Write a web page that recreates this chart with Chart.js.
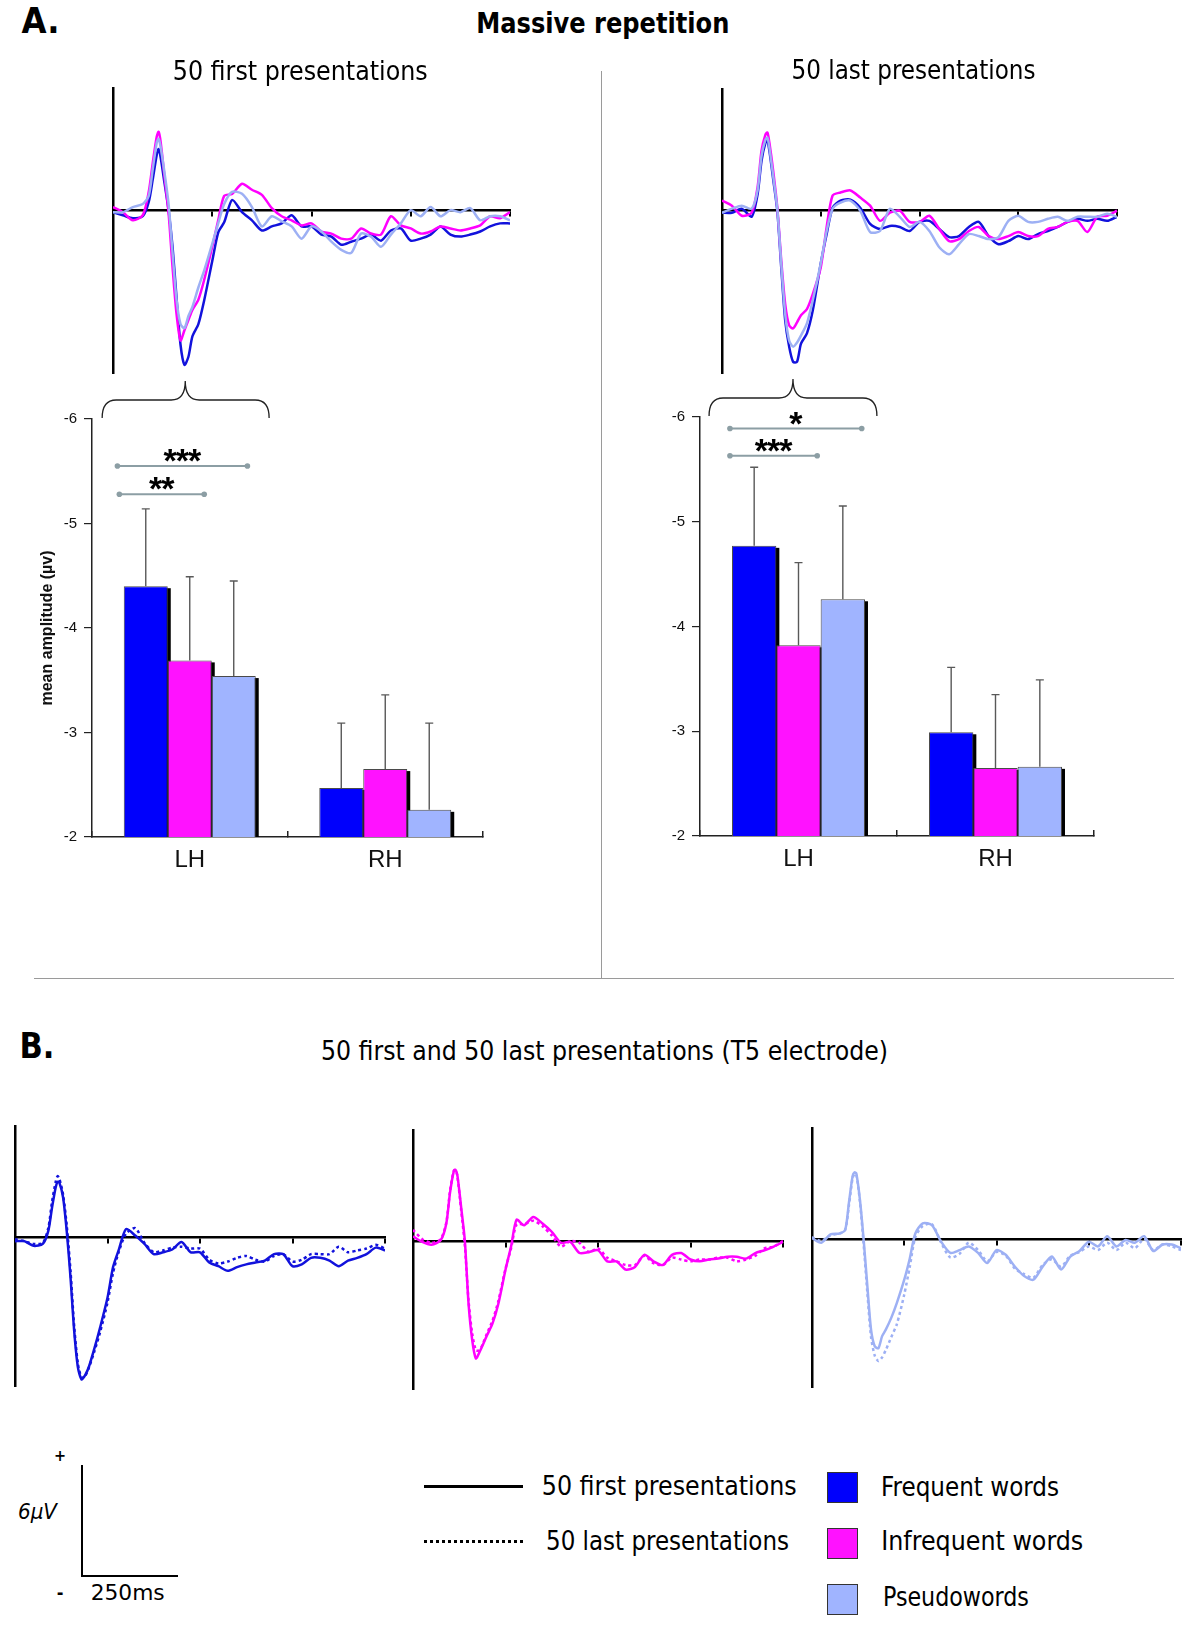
<!DOCTYPE html>
<html><head><meta charset="utf-8">
<script src="https://cdn.jsdelivr.net/npm/chart.js@4.4.1/dist/chart.umd.min.js"></script>
<style>
html,body{margin:0;padding:0;background:#fff;}
#page{position:relative;width:1200px;height:1635px;overflow:hidden;background:#fff;}
canvas{position:absolute;}
.t{position:absolute;white-space:nowrap;font-family:"DejaVu Sans Condensed","DejaVu Sans",sans-serif;font-stretch:condensed;color:#000;transform-origin:center center;line-height:1;}
.ln{position:absolute;}
</style></head><body><div id="page"></div>
<script>
// ---------- DATA ----------
const times = [0,25,50,75,
  90,100,110,115,120,130,140,150,160,170,180,190,200,
  215,230,250,265,280,
  300,325,350,375,400,425,450,475,500,
  525,550,575,600,625,650,675,700,725,750,
  775,800,825,850,875,900,925,950,975,1000];

// A. 50 first presentations (µV)
const firstFrequent = [-0.1,-0.25,-0.4,-0.3,
  0.4,1.5,2.7,3.0,2.6,1.3,0,-1.8,-4.3,-6.6,-7.6,-7.2,-6.2,
  -5.6,-4.4,-2.5,-1.1,-0.6,
  0.5,-0.1,-0.5,-1.0,-0.8,-0.65,-0.25,-0.8,-0.8,
  -1.2,-1.3,-1.7,-1.55,-1.4,-1.2,-1.5,-1.0,-0.9,-1.5,
  -1.4,-1.2,-0.8,-1.2,-1.3,-1.2,-1.05,-0.8,-0.65,-0.65];
const firstInfrequent = [0.15,-0.1,-0.5,-0.25,
  0.9,2.3,3.6,3.85,3.35,1.6,-0.15,-2.8,-5.1,-6.4,-5.9,-5.4,-4.9,
  -4.4,-3.4,-1.8,-0.5,0.7,
  0.8,1.3,1.0,0.75,0.1,-0.3,-0.5,-0.75,-0.65,
  -1.05,-1.15,-1.4,-1.4,-0.9,-1.15,-1.2,-0.3,-0.75,-0.9,
  -1.15,-1.05,-0.8,-0.9,-1.0,-0.9,-0.75,-0.3,-0.4,-0.1];
const firstPseudo = [-0.1,-0.1,0.15,0.3,
  0.7,2.0,3.3,3.5,3.1,1.8,0.3,-2.1,-4.4,-5.6,-5.8,-5.2,-4.75,
  -3.8,-2.95,-1.65,-0.65,0.3,
  0.9,0.8,0.15,-0.8,-0.3,-0.55,-0.8,-1.4,-0.8,
  -1.05,-1.55,-1.95,-2.1,-1.15,-1.3,-1.8,-1.2,-0.65,0,
  -0.3,0.15,-0.3,0,-0.1,0.1,-0.5,-0.3,-0.3,-0.5];

// A. 50 last presentations (µV)
const lastFrequent = [-0.1,-0.1,0.1,-0.3,
  0.8,2.45,3.35,3.45,2.95,1.5,0,-2.8,-5.4,-6.7,-7.45,-7.45,-6.55,
  -6.05,-4.9,-2.6,-1.15,0.15,
  0.5,0.55,0.15,-0.65,-0.9,-0.75,-0.8,-1.0,-0.55,
  -0.5,-0.9,-1.3,-1.25,-0.8,-0.55,-1.25,-1.65,-1.5,-1.25,
  -1.4,-1.15,-1.0,-0.8,-0.55,-0.4,-0.5,-0.4,-0.5,-0.3];
const lastInfrequent = [0.5,0.25,-0.25,-0.1,
  1.15,2.95,3.75,3.85,3.35,1.9,0.15,-2.45,-4.6,-5.65,-5.8,-5.5,-5.15,
  -4.85,-4.1,-2.8,-0.8,0.75,
  0.9,1.0,0.65,0.25,-0.5,-0.1,0,-0.55,-0.55,
  -0.25,-0.9,-1.5,-1.4,-1.0,-0.8,-1.25,-1.4,-1.25,-1.05,
  -1.25,-1.25,-0.9,-0.8,-0.55,-0.5,-1.05,-0.3,-0.25,0];
const lastPseudo = [-0.1,0.1,0.25,0.1,
  1.0,2.7,3.5,3.6,3.1,1.65,0.1,-2.6,-5.1,-6.4,-6.7,-6.5,-6.15,
  -5.55,-4.4,-2.6,-1.0,0.1,
  0.4,0.5,0,-1.05,-1.0,0.1,-0.3,-0.8,-0.55,
  -1.0,-1.8,-2.15,-1.65,-1.15,-1.25,-1.4,-1.3,-0.5,-0.25,
  -0.55,-0.55,-0.4,-0.3,-0.5,-0.3,-0.3,-0.3,-0.15,-0.3];

// B. T5 electrode, first (solid) vs last (dotted)
const t5FrequentFirst = [-0.2,-0.2,-0.45,-0.35,
  0.35,1.6,2.7,3.0,2.95,2.15,0.3,-2.15,-5.05,-7.0,-7.65,-7.4,-6.95,
  -5.95,-4.85,-3.25,-1.6,-0.7,
  0.45,0.1,-0.35,-0.9,-0.8,-0.65,-0.25,-0.8,-0.8,
  -1.35,-1.55,-1.8,-1.6,-1.45,-1.35,-1.25,-0.9,-0.9,-1.55,
  -1.45,-1.1,-1.1,-1.25,-1.55,-1.25,-1.1,-0.9,-0.55,-0.7];
const t5FrequentLast = [-0.1,-0.2,-0.35,-0.3,
  0.5,1.9,3.0,3.3,3.15,2.3,0.6,-1.8,-4.8,-6.8,-7.55,-7.45,-7.0,
  -6.1,-5.1,-3.5,-1.9,-0.8,
  0.2,0.5,-0.3,-0.8,-0.7,-0.55,-0.5,-0.6,-0.6,
  -1.2,-1.4,-1.3,-1.1,-1.0,-1.2,-1.3,-1.0,-0.9,-1.3,
  -1.2,-0.9,-0.9,-0.9,-0.5,-0.8,-0.7,-0.6,-0.4,-0.6];
const t5InfrequentFirst = [0.25,-0.05,-0.2,0.05,
  0.95,2.6,3.75,3.85,3.55,1.85,0.05,-3.35,-5.35,-6.35,-6.0,-5.55,-5.1,
  -4.45,-3.45,-1.55,-0.3,1.15,
  0.85,1.3,0.95,0.5,-0.1,-0.05,-0.65,-0.6,-0.5,
  -1.1,-1.1,-1.55,-1.4,-0.75,-1.1,-1.3,-0.75,-0.65,-1.0,
  -1.1,-1.0,-0.95,-0.85,-0.85,-0.95,-0.65,-0.5,-0.3,-0.05];
const t5InfrequentLast = [0.6,0.1,-0.1,0.1,
  1.0,2.7,3.8,3.85,3.5,1.7,-0.2,-3.2,-5.0,-5.9,-5.9,-5.5,-5.0,
  -4.3,-3.3,-1.5,-0.4,0.9,
  0.9,1.1,0.8,0.3,-0.3,0.0,-0.1,-0.6,-0.4,
  -0.9,-1.1,-1.3,-1.3,-0.8,-1.2,-1.3,-0.9,-1.0,-1.1,
  -1.0,-1.0,-0.9,-0.9,-1.1,-1.0,-0.8,-0.4,-0.3,0.0];
const t5PseudoFirst = [0.05,-0.2,0.25,0.3,
  0.5,1.95,3.4,3.6,3.55,2.1,-0.05,-2.55,-4.9,-5.8,-5.9,-5.25,-4.9,
  -4.25,-3.45,-2.2,-1.05,0.3,
  0.85,0.75,-0.15,-0.75,-0.6,-0.4,-0.75,-1.3,-0.6,
  -0.85,-1.5,-2.0,-2.2,-1.5,-0.95,-1.65,-0.95,-0.65,-0.15,
  -0.4,0.15,-0.4,-0.05,-0.2,0.15,-0.65,-0.3,-0.3,-0.5];
const t5PseudoLast = [0.1,-0.1,0.2,0.3,
  0.5,1.8,3.3,3.5,3.5,2.0,-0.3,-2.9,-5.3,-6.3,-6.6,-6.4,-6.0,
  -5.3,-4.6,-3.0,-1.5,0.1,
  0.7,0.8,-0.2,-1.0,-0.8,-0.2,-0.6,-1.2,-0.7,
  -0.9,-1.6,-1.9,-2.1,-1.4,-1.1,-1.5,-0.9,-0.7,-0.4,
  -0.6,-0.2,-0.6,-0.2,-0.5,0.0,-0.6,-0.3,-0.4,-0.6];

// Bar charts: mean amplitude (µV) and error-bar ends
const barCategories = ['LH','RH'];
const seriesNames = ['Frequent words','Infrequent words','Pseudowords'];
const barFirstFrequent = [-4.40,-2.47];
const barFirstInfrequent = [-3.69,-2.65];
const barFirstPseudo = [-3.54,-2.26];
const errFirstFrequent = [-5.14,-3.09];
const errFirstInfrequent = [-4.49,-3.36];
const errFirstPseudo = [-4.45,-3.09];
const barLastFrequent = [-4.77,-2.99];
const barLastInfrequent = [-3.82,-2.65];
const barLastPseudo = [-4.26,-2.66];
const errLastFrequent = [-5.52,-3.61];
const errLastInfrequent = [-4.61,-3.35];
const errLastPseudo = [-5.15,-3.49];
const barAxisMin = -6, barAxisMax = -2, barAxisStep = 1;
// significance markers: [from, to (category units), level (µV), label]
const sigFirst = [[-0.37,0.295,-5.55,'***'],[-0.36,0.074,-5.28,'**']];
const sigLast = [[-0.348,0.321,-5.89,'*'],[-0.348,0.095,-5.63,'***']];

// ---------- STYLE ----------
const LINE_BLUE='#1212dc', LINE_MAG='#ff00ff', LINE_LB='#9db0f4';
const BAR_COLORS=['#0000fc','#ff12ff','#a0b4ff'];
Chart.defaults.font.family='"Liberation Sans", Arial, sans-serif';

const page=document.getElementById('page');
function mkCanvas(l,t,w,h){const c=document.createElement('canvas');c.width=w;c.height=h;
  c.style.left=l+'px';c.style.top=t+'px';c.style.width=w+'px';c.style.height=h+'px';page.appendChild(c);return c;}
function pts(v){return v.map((y,i)=>({x:times[i],y:y}));}

function erp(box,datasets){
  const pad=5;
  const cv=mkCanvas(box.l-pad,box.t-pad,box.r-box.l+2*pad,box.b-box.t+2*pad);
  new Chart(cv,{type:'line',data:{datasets},options:{
    responsive:false,animation:false,devicePixelRatio:1,
    layout:{padding:pad},
    plugins:{legend:{display:false},tooltip:{enabled:false}},
    elements:{point:{radius:0},line:{tension:0.25,borderWidth:2.5}},
    scales:{
      x:{type:'linear',min:0,max:1000,position:{y:0},ticks:{display:false,stepSize:250},
         grid:{display:true,drawOnChartArea:false,drawTicks:true,tickLength:5,lineWidth:2,
               color:c=>(c.tick&&c.tick.value===0)?'rgba(0,0,0,0)':'#000'},
         border:{display:true,color:'#000',width:2.5}},
      y:{type:'linear',min:-8,max:6,position:{x:0},ticks:{display:false},grid:{display:false},
         border:{display:true,color:'#000',width:2.5}}
    }}});
}
function ds(v,color,order,dash){return {data:pts(v),borderColor:color,order:order,borderDash:dash||[],fill:false};}

erp({l:113,r:510,t:88,b:373},[ds(firstFrequent,LINE_BLUE,2),ds(firstInfrequent,LINE_MAG,1),ds(firstPseudo,LINE_LB,0)]);
erp({l:722,r:1117,t:89,b:373},[ds(lastFrequent,LINE_BLUE,2),ds(lastInfrequent,LINE_MAG,1),ds(lastPseudo,LINE_LB,0)]);
erp({l:15,r:385,t:1126,b:1386},[ds(t5FrequentFirst,LINE_BLUE,1),ds(t5FrequentLast,LINE_BLUE,0,[3,3])]);
erp({l:413,r:783,t:1130,b:1389},[ds(t5InfrequentFirst,LINE_MAG,1),ds(t5InfrequentLast,LINE_MAG,0,[3,3])]);
erp({l:812,r:1181,t:1128,b:1387},[ds(t5PseudoFirst,LINE_LB,1),ds(t5PseudoLast,LINE_LB,0,[3,3])]);

// ---------- BAR CHARTS ----------
const barExtras={id:'barExtras',
  beforeDatasetsDraw(chart){
    const ctx=chart.ctx,a=chart.chartArea;
    ctx.save();ctx.beginPath();ctx.rect(a.left,a.top,a.right-a.left,a.bottom-a.top);ctx.clip();
    ctx.fillStyle='#000';
    chart.data.datasets.forEach((d,i)=>{chart.getDatasetMeta(i).data.forEach(b=>{
      const p=b.getProps(['x','y','base','width'],true);
      ctx.fillRect(p.x-p.width/2+3,p.y+2,p.width,p.base-p.y);
    });});
    ctx.restore();
  },
  afterDatasetsDraw(chart,args,opts){
    const ctx=chart.ctx,xs=chart.scales.x,ys=chart.scales.y;
    ctx.save();
    chart.data.datasets.forEach((d,i)=>{chart.getDatasetMeta(i).data.forEach((b,j)=>{
      const p=b.getProps(['x','y'],true);const yt=ys.getPixelForValue(d.errors[j]);
      ctx.beginPath();ctx.moveTo(p.x,p.y);ctx.lineTo(p.x,yt);ctx.moveTo(p.x-4,yt);ctx.lineTo(p.x+4,yt);
      ctx.strokeStyle='#595959';ctx.lineWidth=1.4;ctx.stroke();
    });});
    // significance
    (opts.sig||[]).forEach(s=>{
      const x1=xs.getPixelForValue(s[0]),x2=xs.getPixelForValue(s[1]),y=ys.getPixelForValue(s[2]);
      ctx.strokeStyle='#8c9ea4';ctx.fillStyle='#8c9ea4';ctx.lineWidth=2;
      ctx.beginPath();ctx.moveTo(x1,y);ctx.lineTo(x2,y);ctx.stroke();
      [x1,x2].forEach(x=>{ctx.beginPath();ctx.arc(x,y,2.8,0,Math.PI*2);ctx.fill();});
      ctx.fillStyle='#000';ctx.font='bold 34px "Liberation Sans", Arial';ctx.textAlign='center';ctx.textBaseline='alphabetic';
      try{ctx.letterSpacing='-1px';}catch(e){}
      ctx.fillText(s[3],(x1+x2)/2-0.5,y+6);
      try{ctx.letterSpacing='0px';}catch(e){}
    });
    // brace
    const br=opts.brace;
    if(br){
      const x1=xs.getPixelForValue(br[0]),x2=xs.getPixelForValue(br[1]),xc=xs.getPixelForValue(br[2]);
      const yb=ys.getPixelForValue(barAxisMin)-1,ym=yb-18,yt=yb-37,r=14;
      ctx.strokeStyle='#222';ctx.lineWidth=1.3;ctx.beginPath();
      ctx.moveTo(x1,yb);ctx.quadraticCurveTo(x1,ym,x1+r,ym);ctx.lineTo(xc-r,ym);
      ctx.quadraticCurveTo(xc,ym,xc,yt);ctx.quadraticCurveTo(xc,ym,xc+r,ym);
      ctx.lineTo(x2-r,ym);ctx.quadraticCurveTo(x2,ym,x2,yb);ctx.stroke();
    }
    ctx.restore();
  }};

function barChart(o){
  const cv=mkCanvas(o.left,o.top,o.width,o.height);
  const datasets=o.vals.map((v,i)=>({label:seriesNames[i],data:v,errors:o.errs[i],backgroundColor:BAR_COLORS[i],
    borderColor:'#4a4a4a',borderWidth:1,barPercentage:1,categoryPercentage:0.675}));
  new Chart(cv,{type:'bar',data:{labels:barCategories,datasets},options:{
    responsive:false,animation:false,devicePixelRatio:1,
    layout:{padding:{top:o.padTop,right:10,bottom:0,left:0}},
    plugins:{legend:{display:false},tooltip:{enabled:false},barExtras:{sig:o.sig,brace:o.brace}},
    scales:{
      x:{grid:{display:true,drawOnChartArea:false,drawTicks:true,tickLength:-6,color:'#222',lineWidth:1.5,offset:true},
         border:{display:true,color:'#222',width:1.5},
         ticks:{font:{size:24},color:'#111',padding:15},afterFit:s=>{s.height=40;}},
      y:{reverse:true,min:barAxisMin,max:barAxisMax,
         ticks:{stepSize:barAxisStep,font:{size:15},color:'#111',padding:7},
         grid:{drawOnChartArea:false,drawTicks:true,tickLength:8,color:'#222',lineWidth:1.2},
         border:{display:true,color:'#222',width:1.5},
         title:o.title?{display:true,text:o.title,font:{size:16,weight:'bold'},color:'#111',padding:{top:8,bottom:0}}:{display:false},
         afterFit:s=>{s.width=o.yWidth;}}
    }},plugins:[barExtras]});
}
barChart({left:30,top:370,width:463,height:507,padTop:49,yWidth:62,title:'mean amplitude (µv)',
  vals:[barFirstFrequent,barFirstInfrequent,barFirstPseudo],errs:[errFirstFrequent,errFirstInfrequent,errFirstPseudo],
  sig:sigFirst,brace:[-0.448,0.406,-0.023]});
barChart({left:640,top:370,width:464,height:506,padTop:47,yWidth:60,title:null,
  vals:[barLastFrequent,barLastInfrequent,barLastPseudo],errs:[errLastFrequent,errLastInfrequent,errLastPseudo],
  sig:sigLast,brace:[-0.454,0.398,-0.028]});

// ---------- TEXT & DECORATION ----------
function txt(s,cx,cy,w,size,weight,style){
  const el=document.createElement('div');el.className='t';el.textContent=s;
  el.style.fontSize=size+'px';el.style.fontWeight=weight||'normal';if(style)el.style.fontStyle=style;
  page.appendChild(el);
  const r=el.getBoundingClientRect();const k=w?w/r.width:1;
  el.style.left=(cx-r.width/2)+'px';el.style.top=(cy-r.height/2)+'px';el.style.transform='scaleX('+k+')';
}
function box(l,t,w,h,css){const d=document.createElement('div');d.className='ln';
  d.style.left=l+'px';d.style.top=t+'px';d.style.width=w+'px';d.style.height=h+'px';d.style.cssText+=css;page.appendChild(d);}

txt('A.',40,21,38,35,'bold');
txt('Massive repetition',603,23,253,29,'bold');
txt('50 first presentations',300,71,255,26);
txt('50 last presentations',913,70,244,26);
txt('B.',37,1046,35,35,'bold');
txt('50 first and 50 last presentations (T5 electrode)',604,1051,567,26);
txt('50 first presentations',669.5,1486,255,26);
txt('50 last presentations',667.5,1541,243,26);
txt('Frequent words',970,1487,178,26);
txt('Infrequent words',982,1541,202,26);
txt('Pseudowords',956,1597,146,26);
txt('6µV',37.5,1512,39,21,'normal','italic');
txt('+',60,1456,0,16,'bold');
txt('-',60,1593,0,18,'bold');
txt('250ms',128,1593,74,22);

// dividers
box(601,71,1,907,'background:#9a9a9a;');
box(34,978,1140,1,'background:#9a9a9a;');
// scale bar
box(81,1465,2,112,'background:#000;');
box(81,1575,97,2,'background:#000;');
// legend lines
box(424,1485,99,3,'background:#000;');
box(424,1540,99,0,'border-top:3px dotted #000;');
// legend swatches
box(827,1472,29,29,'background:'+BAR_COLORS[0]+';border:1.5px solid #333;');
box(827,1528,29,29,'background:'+BAR_COLORS[1]+';border:1.5px solid #333;');
box(827,1584,29,29,'background:'+BAR_COLORS[2]+';border:1.5px solid #333;');
</script></body></html>
